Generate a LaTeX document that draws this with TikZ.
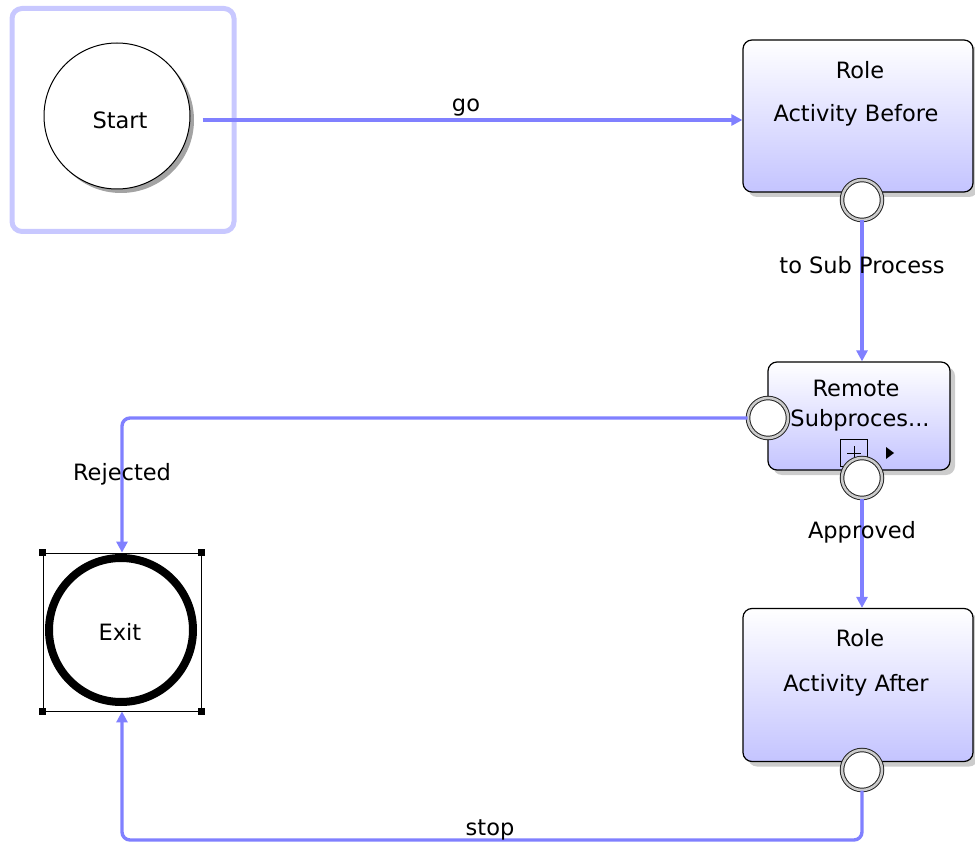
\documentclass[tikz,border=0pt]{standalone}
\usepackage{fontspec}
\setmainfont{DejaVu Sans}
\usetikzlibrary{arrows.meta,shadows}

\definecolor{flowblue}{RGB}{128,128,255}
\definecolor{lanepale}{RGB}{200,200,255}
\definecolor{taskbottom}{RGB}{196,196,255}

\tikzset{
    txt/.style={font=\fontsize{22.5}{26}\selectfont, inner sep=1pt},
    flow/.style={draw=flowblue, line width=3.4pt, rounded corners=8pt,
        -{Triangle[length=11pt,width=11pt]}},
    task/.style={draw=black, line width=1.2pt, rounded corners=9pt,
        top color=white, bottom color=taskbottom,
        drop shadow={shadow xshift=5pt, shadow yshift=-5pt, fill=black!40, opacity=0.5}},
    port/.style={circle, draw=black!85, line width=1pt, double=black!20,
        double distance=2.5pt, fill=white, minimum size=40pt, inner sep=0pt},
    handle/.style={fill=black, minimum size=7pt, inner sep=0pt},
}

\begin{document}
\begin{tikzpicture}[x=1pt, y=-1pt]
    \useasboundingbox (0,0) rectangle (975,845);

    % Start event with its frame
    \node[draw=lanepale, line width=5pt, rounded corners=10pt,
        minimum width=222pt, minimum height=223pt] (startframe) at (123,120) {};
    \node[circle, draw=black, line width=1pt, fill=white, minimum size=146pt,
        drop shadow={shadow xshift=4pt, shadow yshift=-4pt, fill=black!60, opacity=0.6}]
        (start) at (117,116) {};
    \node[txt] (starttxt) at (120,120) {Start};

    % Activities
    \node[task, minimum width=230pt, minimum height=152pt] (bef) at (858,116) {};
    \node[txt] (befrole) at (860,70) {Role};
    \node[txt] (befname) at (856,115) {Activity Before};

    \node[task, minimum width=182pt, minimum height=108pt] (sub) at (859,416) {};
    \node[txt] (subrole) at (856,388) {Remote};
    \node[txt] (subname) at (860,420) {Subproces...};
    \node[draw=black, line width=1pt, minimum size=27pt, inner sep=0pt] (submark) at (854,453) {};
    \draw[line width=1pt] ([xshift=-7pt]submark.center) -- ([xshift=7pt]submark.center);
    \draw[line width=1pt] ([yshift=7pt]submark.center) -- ([yshift=-7pt]submark.center);
    \fill ([xshift=18pt,yshift=6pt]submark.east) -- ([xshift=26pt]submark.east)
        -- ([xshift=18pt,yshift=-6pt]submark.east) -- cycle;

    \node[task, minimum width=230pt, minimum height=153pt] (aft) at (858,685) {};
    \node[txt] (aftrole) at (860,638) {Role};
    \node[txt] (aftname) at (856,685) {Activity After};

    % Ports
    \node[port] (befout) at (862,200) {};
    \node[port] (subleft) at (768,418) {};
    \node[port] (subout) at (862,478) {};
    \node[port] (aftout) at (862,770) {};

    % Exit event, selected
    \node[draw=black, line width=0.8pt, minimum size=158pt, inner sep=0pt] (exitsel) at (122,632) {};
    \foreach \c/\n in {north west/nw, north east/ne, south west/sw, south east/se}
        \node[handle] (h\n) at (exitsel.\c) {};
    \node[circle, draw=black, line width=8pt, fill=white, minimum size=144pt,
        drop shadow={shadow xshift=3pt, shadow yshift=-3pt, fill=black!40, opacity=0.5}]
        (exit) at (121,630) {};
    \node[txt] (exittxt) at (120,632) {Exit};

    % Flows
    \coordinate (stopc) at (490,840);
    \draw[flow] ([xshift=12pt,yshift=-4pt]start.east) -- ([yshift=-4pt]bef.west);
    \draw[flow] (befout) -- (befout |- sub.north);
    \draw[flow] (subleft) -| (exitsel);
    \draw[flow] (subout) -- (subout |- aft.north);
    \draw[flow] (aftout) |- (stopc) -| (exitsel);

    % Flow labels
    \node[txt] (golbl) at (466,108) {go};
    \node[txt] (tosublbl) at (862,265) {to Sub Process};
    \node[txt] (rejlbl) at (122,474) {Rejected};
    \node[txt] (applbl) at (862,532) {Approved};
    \node[txt] (stoplbl) at (490,830) {stop};
\end{tikzpicture}
\end{document}
